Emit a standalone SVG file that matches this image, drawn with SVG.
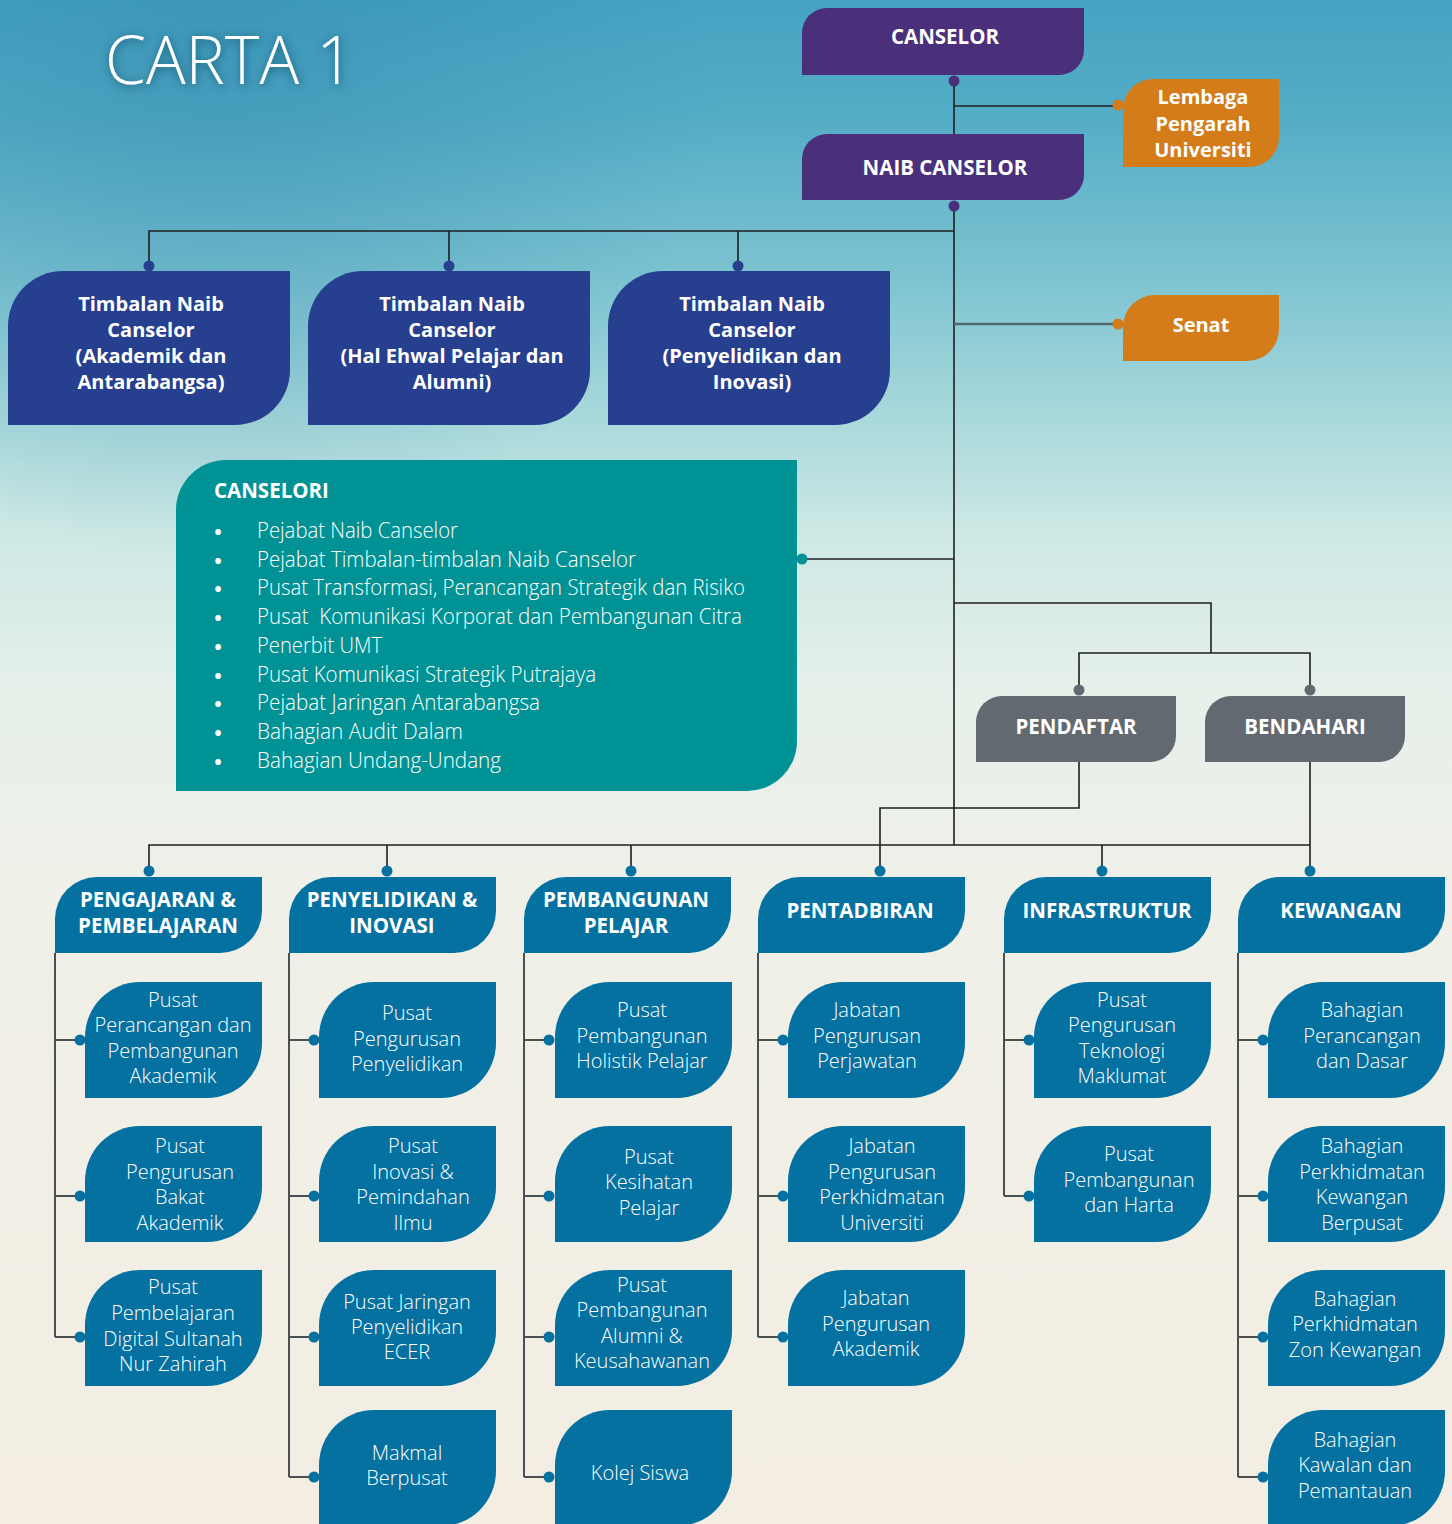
<svg xmlns="http://www.w3.org/2000/svg" xmlns:xlink="http://www.w3.org/1999/xlink" width="1452" height="1524" viewBox="0 0 1452 1524">
<defs>
<linearGradient id="bg" x1="0" y1="0" x2="0" y2="1">
<stop offset="0" stop-color="#45a3c2"/>
<stop offset="0.08" stop-color="#55adc6"/>
<stop offset="0.18" stop-color="#7cc3d1"/>
<stop offset="0.27" stop-color="#a7d8db"/>
<stop offset="0.35" stop-color="#cde8e4"/>
<stop offset="0.45" stop-color="#e6f0ea"/>
<stop offset="0.6" stop-color="#f0f0e8"/>
<stop offset="1" stop-color="#f3ede2"/>
</linearGradient>
<radialGradient id="tl" cx="0.15" cy="0.02" r="0.35">
<stop offset="0" stop-color="#2f86ad" stop-opacity="0.45"/>
<stop offset="1" stop-color="#2f86ad" stop-opacity="0"/>
</radialGradient>
<filter id="glow" x="-20%" y="-50%" width="140%" height="200%">
<feGaussianBlur in="SourceAlpha" stdDeviation="5"/>
<feOffset dx="1" dy="2" result="b"/>
<feFlood flood-color="#0b3d55" flood-opacity="0.75"/>
<feComposite in2="b" operator="in"/>
<feMerge><feMergeNode/><feMergeNode in="SourceGraphic"/></feMerge>
</filter>
<path id="tnc" d="M0,55 A55,55 0 0 1 55,0 H282 V99 A55,55 0 0 1 227,154 H0 Z"/>
<path id="hdr" d="M0,42 A42,42 0 0 1 42,0 H207 V34 A42,42 0 0 1 165,76 H0 Z"/>
<path id="child" d="M0,55 A55,55 0 0 1 55,0 H177 V61 A55,55 0 0 1 122,116 H0 Z"/>
<path id="reg" d="M0,26 A26,26 0 0 1 26,0 H200 V40 A26,26 0 0 1 174,66 H0 Z"/>
</defs>
<style>
text{font-family:"Open Sans","Noto Sans","DejaVu Sans",sans-serif;fill:#ffffff}
.b{font-weight:700;font-size:20.5px;text-anchor:middle}
.bt{font-weight:700;font-size:20px;text-anchor:middle}
.ct{font-weight:300;font-size:20px;text-anchor:middle}
.li{font-weight:300;font-size:21.5px}
.bu{font-weight:700;font-size:20px;text-anchor:middle}
.ln{fill:none;stroke:#1f1f1f;stroke-width:1.6}
.ls{fill:none;stroke:#4a4f52;stroke-width:2}
.purple{fill:#4a2f7b}
.orange{fill:#d47b1a}
.navy{fill:#26408f}
.teal{fill:#009294}
.gray{fill:#626970}
.blue{fill:#0571a0}
</style>
<rect x="0" y="0" width="1452" height="1524" fill="url(#bg)"/>
<rect x="0" y="0" width="1452" height="1524" fill="url(#tl)"/>

<text x="105" y="84" font-size="66" font-weight="300" filter="url(#glow)">CARTA 1</text>

<g id="connectors">
<path class="ln" d="M954,81 V134 M954,106 H1118"/>
<path class="ln" d="M954,206 V845"/>
<path class="ln" d="M149,266 V231 H954 M449,231 V266 M738,231 V266"/>
<path class="ln" d="M954,324 H1118" style="stroke:#4d6670;stroke-width:2.4"/>
<path class="ln" d="M954,559 H802"/>
<path class="ln" d="M954,603 H1211 V653 M1079,690 V653 H1310 V690"/>
<path class="ln" d="M1079,762 V808 H880 V871"/>
<path class="ln" d="M1310,762 V871"/>
<path class="ln" d="M149,871 V845 H1310 M387,845 V871 M631,845 V871 M1102,845 V871"/>
<path class="ls" d="M55,953 V1337 M55,1040 H80 M55,1196 H80 M55,1337 H80"/>
<path class="ls" d="M289,953 V1477 M289,1040 H314 M289,1196 H314 M289,1337 H314 M289,1477 H314"/>
<path class="ls" d="M524,953 V1477 M524,1040 H549 M524,1196 H549 M524,1337 H549 M524,1477 H549"/>
<path class="ls" d="M758,953 V1337 M758,1040 H783 M758,1196 H783 M758,1337 H783"/>
<path class="ls" d="M1004,953 V1196 M1004,1040 H1029 M1004,1196 H1029"/>
<path class="ls" d="M1238,953 V1477 M1238,1040 H1263 M1238,1196 H1263 M1238,1337 H1263 M1238,1477 H1263"/>
<g class="purple"><circle cx="954" cy="81" r="5.5"/><circle cx="954" cy="206" r="5.5"/></g>
<g class="orange"><circle cx="1118" cy="105" r="5.5"/><circle cx="1118" cy="324" r="5.5"/></g>
<g class="navy"><circle cx="149" cy="266" r="5.5"/><circle cx="449" cy="266" r="5.5"/><circle cx="738" cy="266" r="5.5"/></g>
<circle class="teal" cx="802" cy="559" r="5.5"/>
<g class="gray"><circle cx="1079" cy="690" r="5.5"/><circle cx="1310" cy="690" r="5.5"/></g>
<g class="blue">
<circle cx="149" cy="871" r="5.5"/><circle cx="387" cy="871" r="5.5"/><circle cx="631" cy="871" r="5.5"/><circle cx="880" cy="871" r="5.5"/><circle cx="1102" cy="871" r="5.5"/><circle cx="1310" cy="871" r="5.5"/>
<circle cx="80" cy="1040" r="5.5"/><circle cx="80" cy="1196" r="5.5"/><circle cx="80" cy="1337" r="5.5"/>
<circle cx="314" cy="1040" r="5.5"/><circle cx="314" cy="1196" r="5.5"/><circle cx="314" cy="1337" r="5.5"/><circle cx="314" cy="1477" r="5.5"/>
<circle cx="549" cy="1040" r="5.5"/><circle cx="549" cy="1196" r="5.5"/><circle cx="549" cy="1337" r="5.5"/><circle cx="549" cy="1477" r="5.5"/>
<circle cx="783" cy="1040" r="5.5"/><circle cx="783" cy="1196" r="5.5"/><circle cx="783" cy="1337" r="5.5"/>
<circle cx="1029" cy="1040" r="5.5"/><circle cx="1029" cy="1196" r="5.5"/>
<circle cx="1263" cy="1040" r="5.5"/><circle cx="1263" cy="1196" r="5.5"/><circle cx="1263" cy="1337" r="5.5"/><circle cx="1263" cy="1477" r="5.5"/>
</g>
</g>

<g id="canselor">
<path class="purple" d="M802,33 A25,25 0 0 1 827,8 H1084 V50 A25,25 0 0 1 1059,75 H802 Z"/>
<text class="b" x="945" y="44">CANSELOR</text>
</g>
<g id="naib-canselor">
<path class="purple" d="M802,159 A25,25 0 0 1 827,134 H1084 V175 A25,25 0 0 1 1059,200 H802 Z"/>
<text class="b" x="945" y="175">NAIB CANSELOR</text>
</g>
<g id="lembaga">
<path class="orange" d="M1123,109 A30,30 0 0 1 1153,79 H1279 V137 A30,30 0 0 1 1249,167 H1123 Z"/>
<text class="bt" x="1203" y="104">Lembaga</text>
<text class="bt" x="1203" y="131">Pengarah</text>
<text class="bt" x="1203" y="157">Universiti</text>
</g>
<g id="senat">
<path class="orange" d="M1123,327 A32,32 0 0 1 1155,295 H1279 V329 A32,32 0 0 1 1247,361 H1123 Z"/>
<text class="bt" x="1201" y="332">Senat</text>
</g>

<g id="tnc-akademik">
<use href="#tnc" x="8" y="271" class="navy"/>
<text class="bt" x="151" y="311">Timbalan Naib</text>
<text class="bt" x="151" y="337">Canselor</text>
<text class="bt" x="151" y="363">(Akademik dan</text>
<text class="bt" x="151" y="389">Antarabangsa)</text>
</g>
<g id="tnc-hep">
<use href="#tnc" x="308" y="271" class="navy"/>
<text class="bt" x="452" y="311">Timbalan Naib</text>
<text class="bt" x="452" y="337">Canselor</text>
<text class="bt" x="452" y="363">(Hal Ehwal Pelajar dan</text>
<text class="bt" x="452" y="389">Alumni)</text>
</g>
<g id="tnc-penyelidikan">
<use href="#tnc" x="608" y="271" class="navy"/>
<text class="bt" x="752" y="311">Timbalan Naib</text>
<text class="bt" x="752" y="337">Canselor</text>
<text class="bt" x="752" y="363">(Penyelidikan dan</text>
<text class="bt" x="752" y="389">Inovasi)</text>
</g>

<g id="canselori">
<path class="teal" d="M176,510 A50,50 0 0 1 226,460 H797 V741 A50,50 0 0 1 747,791 H176 Z"/>
<text x="214" y="498" font-weight="700" font-size="20.5">CANSELORI</text>
<g class="bu">
<text x="218" y="539">•</text>
<text x="218" y="568">•</text>
<text x="218" y="596">•</text>
<text x="218" y="625">•</text>
<text x="218" y="654">•</text>
<text x="218" y="683">•</text>
<text x="218" y="711">•</text>
<text x="218" y="740">•</text>
<text x="218" y="769">•</text>
</g>
<g class="li">
<text x="257" y="538" textLength="201" lengthAdjust="spacingAndGlyphs">Pejabat Naib Canselor</text>
<text x="257" y="567" textLength="379" lengthAdjust="spacingAndGlyphs">Pejabat Timbalan-timbalan Naib Canselor</text>
<text x="257" y="595" textLength="488" lengthAdjust="spacingAndGlyphs">Pusat Transformasi, Perancangan Strategik dan Risiko</text>
<text x="257" y="624" textLength="485" lengthAdjust="spacingAndGlyphs" xml:space="preserve">Pusat  Komunikasi Korporat dan Pembangunan Citra</text>
<text x="257" y="653" textLength="125" lengthAdjust="spacingAndGlyphs">Penerbit UMT</text>
<text x="257" y="682" textLength="339" lengthAdjust="spacingAndGlyphs">Pusat Komunikasi Strategik Putrajaya</text>
<text x="257" y="710" textLength="283" lengthAdjust="spacingAndGlyphs">Pejabat Jaringan Antarabangsa</text>
<text x="257" y="739" textLength="206" lengthAdjust="spacingAndGlyphs">Bahagian Audit Dalam</text>
<text x="257" y="768" textLength="244" lengthAdjust="spacingAndGlyphs">Bahagian Undang-Undang</text>
</g>
</g>

<g id="pendaftar">
<use href="#reg" x="976" y="696" class="gray"/>
<text class="b" x="1076" y="734">PENDAFTAR</text>
</g>
<g id="bendahari">
<use href="#reg" x="1205" y="696" class="gray"/>
<text class="b" x="1305" y="734">BENDAHARI</text>
</g>

<g id="h-pengajaran">
<use href="#hdr" x="55" y="877" class="blue"/>
<text class="b" x="158" y="907">PENGAJARAN &amp;</text>
<text class="b" x="158" y="933">PEMBELAJARAN</text>
</g>
<g id="h-penyelidikan">
<use href="#hdr" x="289" y="877" class="blue"/>
<text class="b" x="392" y="907">PENYELIDIKAN &amp;</text>
<text class="b" x="392" y="933">INOVASI</text>
</g>
<g id="h-pembangunan">
<use href="#hdr" x="524" y="877" class="blue"/>
<text class="b" x="626" y="907">PEMBANGUNAN</text>
<text class="b" x="626" y="933">PELAJAR</text>
</g>
<g id="h-pentadbiran">
<use href="#hdr" x="758" y="877" class="blue"/>
<text class="b" x="860" y="918">PENTADBIRAN</text>
</g>
<g id="h-infrastruktur">
<use href="#hdr" x="1004" y="877" class="blue"/>
<text class="b" x="1107" y="918">INFRASTRUKTUR</text>
</g>
<g id="h-kewangan">
<use href="#hdr" x="1238" y="877" class="blue"/>
<text class="b" x="1341" y="918">KEWANGAN</text>
</g>

<g id="c1r1"><use href="#child" x="85" y="982" class="blue"/>
<text class="ct" x="173" y="1007">Pusat</text><text class="ct" x="173" y="1032">Perancangan dan</text><text class="ct" x="173" y="1058">Pembangunan</text><text class="ct" x="173" y="1083">Akademik</text></g>
<g id="c1r2"><use href="#child" x="85" y="1126" class="blue"/>
<text class="ct" x="180" y="1153">Pusat</text><text class="ct" x="180" y="1179">Pengurusan</text><text class="ct" x="180" y="1204">Bakat</text><text class="ct" x="180" y="1230">Akademik</text></g>
<g id="c1r3"><use href="#child" x="85" y="1270" class="blue"/>
<text class="ct" x="173" y="1294">Pusat</text><text class="ct" x="173" y="1320">Pembelajaran</text><text class="ct" x="173" y="1346">Digital Sultanah</text><text class="ct" x="173" y="1371">Nur Zahirah</text></g>

<g id="c2r1"><use href="#child" x="319" y="982" class="blue"/>
<text class="ct" x="407" y="1020">Pusat</text><text class="ct" x="407" y="1046">Pengurusan</text><text class="ct" x="407" y="1071">Penyelidikan</text></g>
<g id="c2r2"><use href="#child" x="319" y="1126" class="blue"/>
<text class="ct" x="413" y="1153">Pusat</text><text class="ct" x="413" y="1179">Inovasi &amp;</text><text class="ct" x="413" y="1204">Pemindahan</text><text class="ct" x="413" y="1230">Ilmu</text></g>
<g id="c2r3"><use href="#child" x="319" y="1270" class="blue"/>
<text class="ct" x="407" y="1309">Pusat Jaringan</text><text class="ct" x="407" y="1334">Penyelidikan</text><text class="ct" x="407" y="1359">ECER</text></g>
<g id="c2r4"><use href="#child" x="319" y="1410" class="blue"/>
<text class="ct" x="407" y="1460">Makmal</text><text class="ct" x="407" y="1485">Berpusat</text></g>

<g id="c3r1"><use href="#child" x="555" y="982" class="blue"/>
<text class="ct" x="642" y="1017">Pusat</text><text class="ct" x="642" y="1043">Pembangunan</text><text class="ct" x="642" y="1068">Holistik Pelajar</text></g>
<g id="c3r2"><use href="#child" x="555" y="1126" class="blue"/>
<text class="ct" x="649" y="1164">Pusat</text><text class="ct" x="649" y="1189">Kesihatan</text><text class="ct" x="649" y="1215">Pelajar</text></g>
<g id="c3r3"><use href="#child" x="555" y="1270" class="blue"/>
<text class="ct" x="642" y="1292">Pusat</text><text class="ct" x="642" y="1317">Pembangunan</text><text class="ct" x="642" y="1343">Alumni &amp;</text><text class="ct" x="642" y="1368">Keusahawanan</text></g>
<g id="c3r4"><use href="#child" x="555" y="1410" class="blue"/>
<text class="ct" x="640" y="1480">Kolej Siswa</text></g>

<g id="c4r1"><use href="#child" x="788" y="982" class="blue"/>
<text class="ct" x="867" y="1017">Jabatan</text><text class="ct" x="867" y="1043">Pengurusan</text><text class="ct" x="867" y="1068">Perjawatan</text></g>
<g id="c4r2"><use href="#child" x="788" y="1126" class="blue"/>
<text class="ct" x="882" y="1153">Jabatan</text><text class="ct" x="882" y="1179">Pengurusan</text><text class="ct" x="882" y="1204">Perkhidmatan</text><text class="ct" x="882" y="1230">Universiti</text></g>
<g id="c4r3"><use href="#child" x="788" y="1270" class="blue"/>
<text class="ct" x="876" y="1305">Jabatan</text><text class="ct" x="876" y="1331">Pengurusan</text><text class="ct" x="876" y="1356">Akademik</text></g>

<g id="c5r1"><use href="#child" x="1034" y="982" class="blue"/>
<text class="ct" x="1122" y="1007">Pusat</text><text class="ct" x="1122" y="1032">Pengurusan</text><text class="ct" x="1122" y="1058">Teknologi</text><text class="ct" x="1122" y="1083">Maklumat</text></g>
<g id="c5r2"><use href="#child" x="1034" y="1126" class="blue"/>
<text class="ct" x="1129" y="1161">Pusat</text><text class="ct" x="1129" y="1187">Pembangunan</text><text class="ct" x="1129" y="1212">dan Harta</text></g>

<g id="c6r1"><use href="#child" x="1268" y="982" class="blue"/>
<text class="ct" x="1362" y="1017">Bahagian</text><text class="ct" x="1362" y="1043">Perancangan</text><text class="ct" x="1362" y="1068">dan Dasar</text></g>
<g id="c6r2"><use href="#child" x="1268" y="1126" class="blue"/>
<text class="ct" x="1362" y="1153">Bahagian</text><text class="ct" x="1362" y="1179">Perkhidmatan</text><text class="ct" x="1362" y="1204">Kewangan</text><text class="ct" x="1362" y="1230">Berpusat</text></g>
<g id="c6r3"><use href="#child" x="1268" y="1270" class="blue"/>
<text class="ct" x="1355" y="1306">Bahagian</text><text class="ct" x="1355" y="1331">Perkhidmatan</text><text class="ct" x="1355" y="1357">Zon Kewangan</text></g>
<g id="c6r4"><use href="#child" x="1268" y="1410" class="blue"/>
<text class="ct" x="1355" y="1447">Bahagian</text><text class="ct" x="1355" y="1472">Kawalan dan</text><text class="ct" x="1355" y="1498">Pemantauan</text></g>
</svg>
